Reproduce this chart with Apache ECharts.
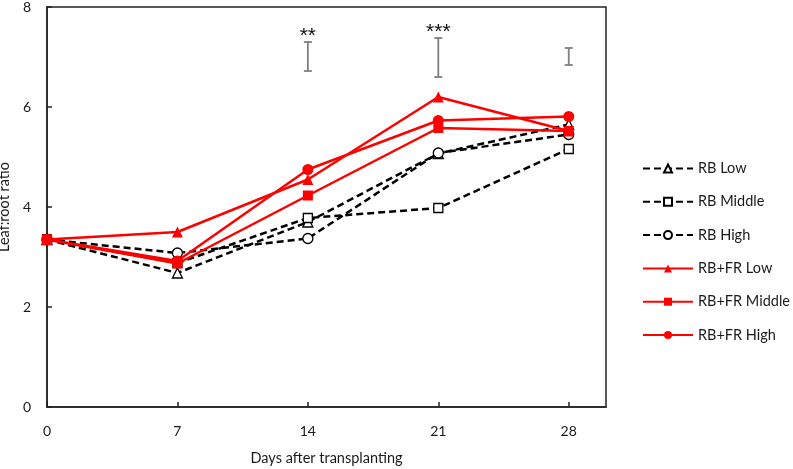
<!DOCTYPE html>
<html><head><meta charset="utf-8">
<script src="https://cdn.jsdelivr.net/npm/echarts@6/dist/echarts.min.js"></script>
<style>html,body{margin:0;padding:0;background:#fff}#c{width:793px;height:469px}</style>
</head><body><div id="c"></div>
<script>
const days = [0, 7, 14, 21, 28];
const rbLow = [3.35, 2.68, 3.70, 5.07, 5.65];
const rbMiddle = [3.35, 2.88, 3.78, 3.98, 5.16];
const rbHigh = [3.35, 3.08, 3.37, 5.08, 5.45];
const fdLow = [3.35, 3.50, 4.55, 6.20, 5.52];
const fdMiddle = [3.35, 2.87, 4.23, 5.58, 5.52];
const fdHigh = [3.35, 2.92, 4.75, 5.73, 5.81];
const errDays = [14, 21, 28];
const errLow = [6.72, 6.60, 6.84];
const errHigh = [7.30, 7.38, 7.18];
const errStars = ['**', '***', ''];
const yTicks = [0, 2, 4, 6, 8];

const FONT = 'Lato';
function pairs(v){ return days.map((d,i)=>[d, v[i]]); }
function rb(name, vals, sym){
  return {name, type:'line', data:pairs(vals), symbol:sym, symbolSize: sym==='rect'?9:10,
    lineStyle:{color:'#000', width:2.5, type:[7,4]},
    itemStyle:{color:'#fff', borderColor:'#000', borderWidth:1.3},
    emphasis:{disabled:true}, z:2, animation:false};
}
function fr(name, vals, sym){
  return {name, type:'line', data:pairs(vals), symbol:sym, symbolSize: sym==='rect'?10:11,
    lineStyle:{color:'#ff0000', width:2.5, type:'solid'},
    itemStyle:{color:'#ff0000', borderColor:'#ff0000', borderWidth:0},
    emphasis:{disabled:true}, z:3, animation:false};
}
const chart = echarts.init(document.getElementById('c'));
chart.setOption({
  backgroundColor:'#fff',
  animation:false,
  textStyle:{fontFamily:FONT},
  grid:{left:47, right:187, top:7, bottom:62, outerBoundsMode:'none', containLabel:false,
    show:true, borderColor:'#222', borderWidth:1.5, backgroundColor:'transparent'},
  xAxis:{type:'value', min:0, max:30, interval:7,
    name:'Days after transplanting', nameLocation:'middle', nameGap:44,
    nameTextStyle:{fontSize:14.5, color:'#1a1a1a', fontFamily:FONT},
    axisLine:{lineStyle:{color:'#222', width:1.5}},
    axisTick:{inside:true, length:5, lineStyle:{color:'#222', width:1.5}},
    axisLabel:{fontSize:14, color:'#1a1a1a', margin:17, showMaxLabel:false, fontFamily:FONT},
    splitLine:{show:false}},
  yAxis:{type:'value', min:yTicks[0], max:yTicks[yTicks.length-1], interval:2,
    name:'Leaf:root ratio', nameLocation:'middle', nameGap:26, nameRotate:90,
    nameTextStyle:{fontSize:14.5, color:'#1a1a1a', fontFamily:FONT},
    axisLine:{show:true, lineStyle:{color:'#222', width:1.5}},
    axisTick:{show:true, inside:true, length:5, lineStyle:{color:'#222', width:1.5}},
    axisLabel:{fontSize:14, color:'#1a1a1a', margin:16, fontFamily:FONT},
    splitLine:{show:false}},
  legend:{orient:'vertical', left:637, top:156, itemGap:18.3, itemWidth:50, itemHeight:10,
    textStyle:{fontSize:14.5, color:'#1a1a1a', fontFamily:FONT},
    data:['RB Low','RB Middle','RB High','RB+FR Low','RB+FR Middle','RB+FR High']},
  series:[
    rb('RB Low', rbLow, 'triangle'),
    rb('RB Middle', rbMiddle, 'rect'),
    rb('RB High', rbHigh, 'circle'),
    fr('RB+FR Low', fdLow, 'triangle'),
    fr('RB+FR Middle', fdMiddle, 'rect'),
    fr('RB+FR High', fdHigh, 'circle'),
    {type:'custom', name:'err', silent:true, z:4,
      data: errDays.map((d,i)=>[d, errLow[i], errHigh[i]]),
      renderItem:function(params, api){
        const lo = api.coord([api.value(0), api.value(1)]);
        const hi = api.coord([api.value(0), api.value(2)]);
        const x = lo[0], cw = 4;
        const st = {stroke:'#7f7f7f', lineWidth:1.8};
        const ch = [
          {type:'line', shape:{x1:x, y1:lo[1], x2:x, y2:hi[1]}, style:st},
          {type:'line', shape:{x1:x-cw, y1:lo[1], x2:x+cw, y2:lo[1]}, style:st},
          {type:'line', shape:{x1:x-cw, y1:hi[1], x2:x+cw, y2:hi[1]}, style:st}
        ];
        const s = errStars[params.dataIndex];
        if (s) ch.push({type:'text', style:{text:s, x:x, y:hi[1]-6, textAlign:'center', textVerticalAlign:'middle', fontSize:21, fill:'#111', fontFamily:'Liberation Sans'}});
        return {type:'group', children:ch};
      }}
  ]
});
</script></body></html>
